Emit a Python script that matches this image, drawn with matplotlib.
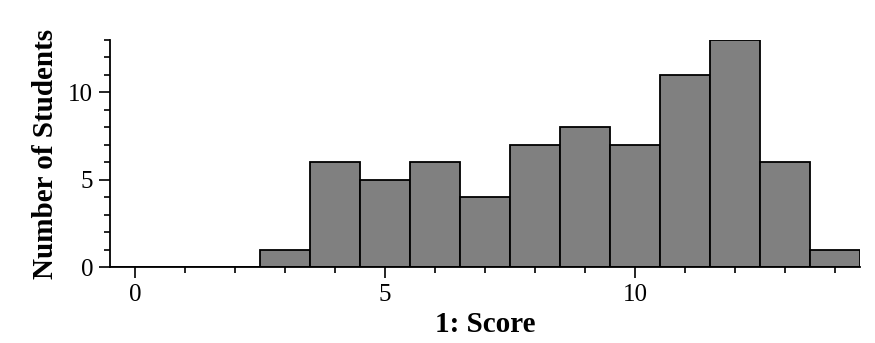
import matplotlib
matplotlib.use("Agg")
import matplotlib.pyplot as plt
from matplotlib.ticker import MultipleLocator

# histogram counts per integer score
scores = list(range(0, 15))
counts = [0, 0, 0, 1, 6, 5, 6, 4, 7, 8, 7, 11, 13, 6, 1]

plt.rcParams["font.family"] = ["Liberation Serif", "DejaVu Serif"]

fig = plt.figure(figsize=(8.75, 3.43), dpi=100)
ax = fig.add_axes([110 / 875, 1 - 267 / 343, 750 / 875, 227 / 343])

ax.bar(scores, counts, width=1.0, color="#808080", edgecolor="black", linewidth=1.3)

ax.set_xlim(-0.5, 14.5)
ax.set_ylim(0, 13)

for side in ("top", "right"):
    ax.spines[side].set_visible(False)
for side in ("left", "bottom"):
    ax.spines[side].set_linewidth(1.3)

ax.xaxis.set_major_locator(MultipleLocator(5))
ax.xaxis.set_minor_locator(MultipleLocator(1))
ax.yaxis.set_major_locator(MultipleLocator(5))
ax.yaxis.set_minor_locator(MultipleLocator(1))
ax.tick_params(which="major", direction="out", length=8, width=1.2, labelsize=18, pad=4)
ax.tick_params(which="minor", direction="out", length=4, width=1.2)

ax.set_xlabel("1: Score", fontsize=21, fontweight="bold", labelpad=4)
ax.set_ylabel("Number of Students", fontsize=21, fontweight="bold", labelpad=7)

fig.savefig("out.png", dpi=100)
